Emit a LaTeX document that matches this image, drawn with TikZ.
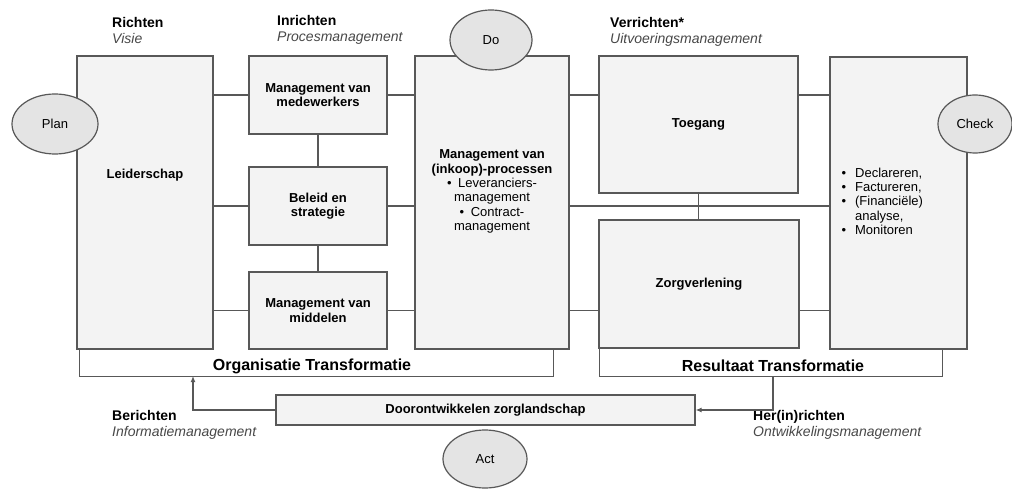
\documentclass[tikz,border=0pt]{standalone}
\usepackage{fontspec}
\setmainfont{Liberation Sans}
\usetikzlibrary{arrows.meta,positioning,shapes.geometric}
\definecolor{BlokGrijs}{RGB}{243,243,243}
\definecolor{OvaalGrijs}{RGB}{228,228,228}
\definecolor{LijnGrijs}{RGB}{88,88,88}
\definecolor{TekstGrijs}{RGB}{72,72,72}
\tikzset{
  blok/.style={draw=LijnGrijs,fill=BlokGrijs,line width=1.2pt,inner sep=0pt,
    align=center,font=\fontsize{13}{14.3}\selectfont\bfseries},
  ovaal/.style={ellipse,draw=LijnGrijs,fill=OvaalGrijs,line width=1.2pt,
    inner sep=0pt,font=\fontsize{13}{15}\selectfont},
  tekst/.style={align=center,inner sep=0pt,font=\fontsize{13}{14.3}\selectfont},
  kop/.style={anchor=west,align=left,inner sep=0pt,font=\fontsize{14}{16}\selectfont},
  trans/.style={inner sep=0pt,font=\fontsize{16}{18}\selectfont\bfseries},
  lijn/.style={draw=LijnGrijs,line width=1.2pt},
  pijl/.style={lijn,-{Latex[length=6pt,width=5pt]}},
}
\begin{document}
\begin{tikzpicture}[x=1pt,y=-1pt]
  \useasboundingbox (0,0) rectangle (1012,489);
  \fill[white] (0,0) rectangle (1012,489);

  % koppen
  \node[kop] (richten) at (112,30) {\textbf{Richten}\\\textit{\color{TekstGrijs}Visie}};
  \node[kop] (inrichten) at (277,30) {\textbf{Inrichten}\\\textit{\color{TekstGrijs}Procesmanagement}};
  \node[kop] (verrichten) at (610,32) {\textbf{Verrichten*}\\\textit{\color{TekstGrijs}Uitvoeringsmanagement}};
  \node[kop] (berichten) at (112,425) {\textbf{Berichten}\\\textit{\color{TekstGrijs}Informatiemanagement}};
  \node[kop] (herrichten) at (753,425) {\textbf{Her(in)richten}\\\textit{\color{TekstGrijs}Ontwikkelingsmanagement}};

  % blokken
  \node[blok,minimum width=136pt,minimum height=293pt,
    label={[tekst,font=\fontsize{13}{14.3}\selectfont\bfseries,yshift=27pt]center:Leiderschap}]
    (leider) at (145,202.5) {};
  \node[blok,minimum width=138pt,minimum height=78pt] (medew) at (318,95) {Management van\\medewerkers};
  \node[blok,minimum width=138pt,minimum height=78pt] (beleid) at (318,206) {Beleid en\\strategie};
  \node[blok,minimum width=138pt,minimum height=77pt] (middel) at (318,310.5) {Management van\\middelen};
  \node[blok,minimum width=154pt,minimum height=293pt,
    label={[tekst,yshift=11pt]center:{\textbf{Management van}\\\textbf{(inkoop)-processen}\\
      \textbullet\enspace Leveranciers-\\management\\\textbullet\enspace Contract-\\management}}]
    (inkoop) at (492,202.5) {};
  \node[blok,minimum width=199pt,minimum height=137pt] (toegang) at (698.5,124.5) {Toegang};
  \node[blok,minimum width=200pt,minimum height=128pt] (zorg) at (699,284) {Zorgverlening};
  \node[blok,minimum width=137pt,minimum height=292pt] (decl) at (898.5,203) {};
  \node[tekst,anchor=west,right=12pt of decl.west] (decllijst) {%
    \begin{tabular}{@{}l@{\hspace{9pt}}l@{}}
      \textbullet & Declareren,\\
      \textbullet & Factureren,\\
      \textbullet & (Financiële)\\
                  & analyse,\\
      \textbullet & Monitoren
    \end{tabular}};
  \node[blok,minimum width=419pt,minimum height=30pt] (door) at (485.5,410) {Doorontwikkelen zorglandschap};

  % verbindingen
  \foreach \r in {medew,beleid,middel} {
    \draw[lijn] (\r.west) -- (\r.west -| leider.east);
    \draw[lijn] (\r.east) -- (\r.east -| inkoop.west);
  }
  \draw[lijn] (medew.south) -- (beleid.north);
  \draw[lijn] (beleid.south) -- (middel.north);
  \draw[lijn] (inkoop.east |- medew.east) -- (toegang.west |- medew.east);
  \draw[lijn] (toegang.east |- medew.east) -- (decl.west |- medew.east);
  \draw[lijn] (inkoop.east |- beleid.east) -- (decl.west |- beleid.east);
  \draw[lijn] (toegang.south) -- (toegang.south |- zorg.north);
  \draw[lijn] (inkoop.east |- middel.east) -- (zorg.west |- middel.east);
  \draw[lijn] (zorg.east |- middel.east) -- (decl.west |- middel.east);

  % transformaties
  \draw[lijn] ([xshift=3pt]leider.south west) -- ++(0,27) -| ([xshift=-16pt]inkoop.south east);
  \draw[lijn] ([xshift=1pt]zorg.south west) -- ++(0,28) -| ([xshift=-25pt]decl.south east);
  \node[trans] (orgtrans) at (312,366) {Organisatie Transformatie};
  \node[trans] (restrans) at (773,366) {Resultaat Transformatie};

  \coordinate (orgpijl) at (193,376);
  \coordinate (respijl) at (773,376);
  \draw[pijl] (door.west) -| (orgpijl);
  \draw[pijl] (respijl) |- (door.east);

  % PDCA
  \node[ovaal,minimum width=86pt,minimum height=60pt] (plan) at (55,124) {Plan};
  \node[ovaal,minimum width=82pt,minimum height=60pt] (do) at (491,40) {Do};
  \node[ovaal,minimum width=74pt,minimum height=58pt] (check) at (975,124) {Check};
  \node[ovaal,minimum width=84pt,minimum height=58pt] (act) at (485,459) {Act};
\end{tikzpicture}
\end{document}
